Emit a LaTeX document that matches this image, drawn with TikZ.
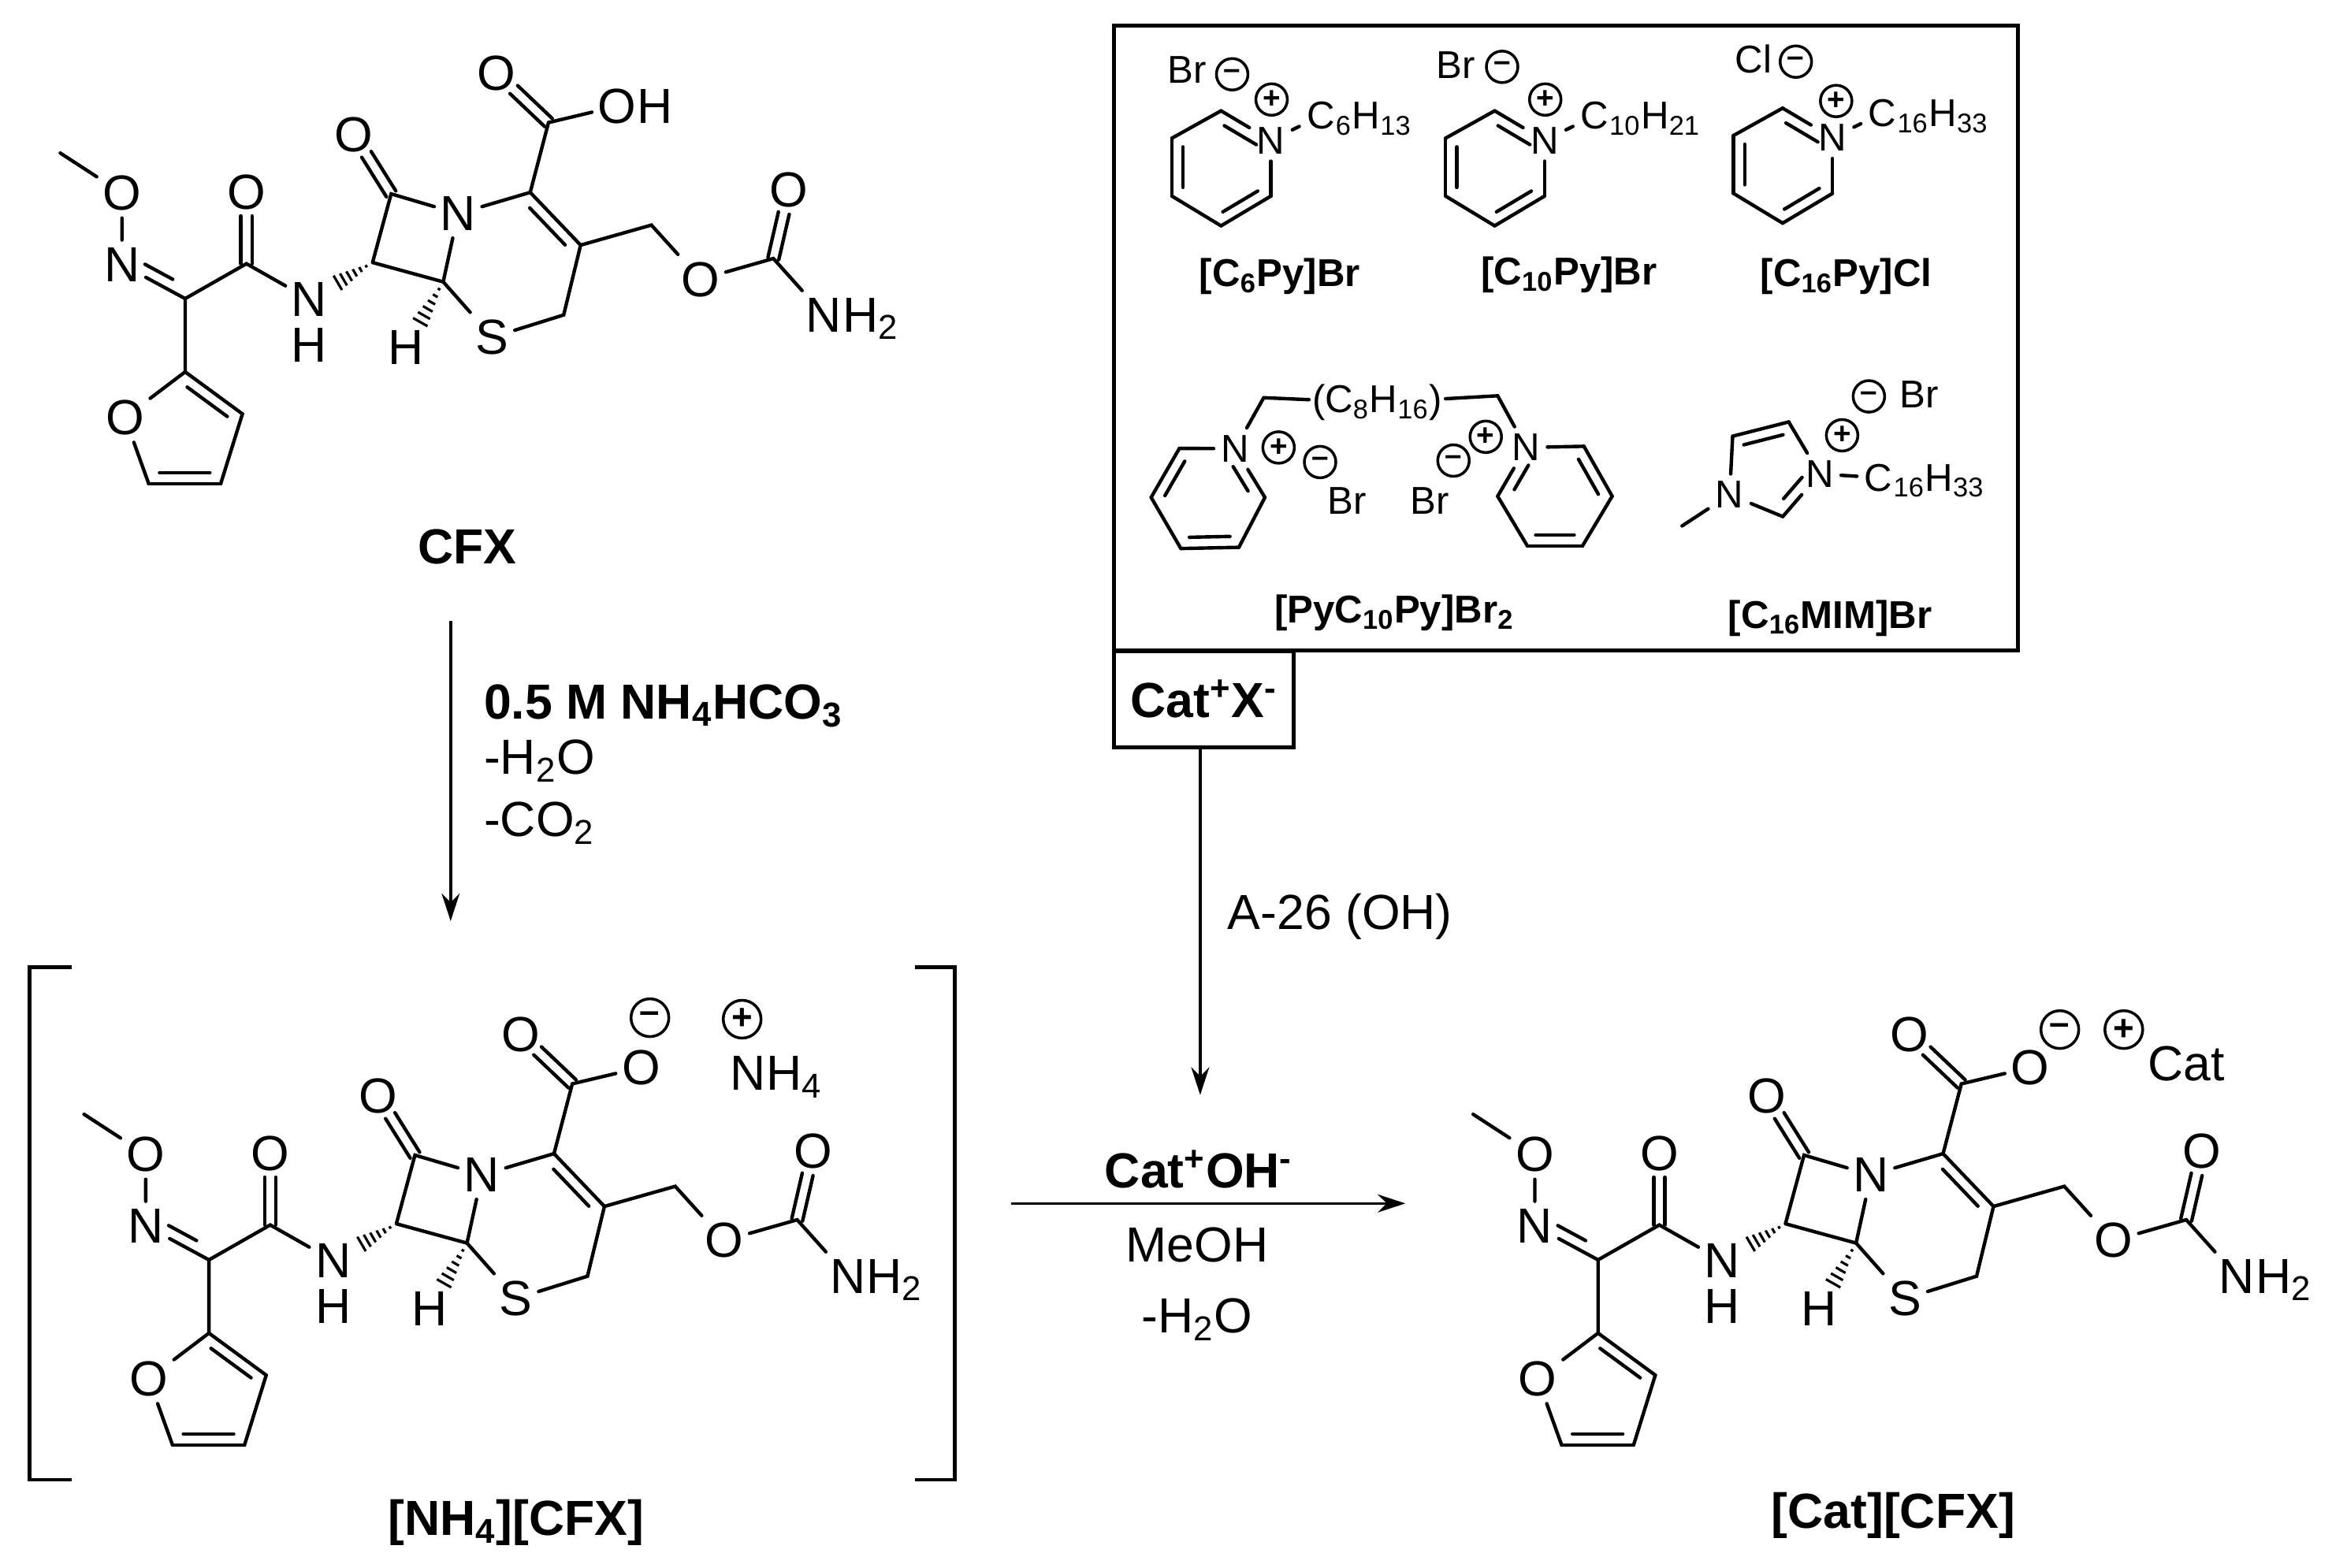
\documentclass[tikz,border=0pt]{standalone}
\usepackage{fontspec}
\setmainfont{Liberation Sans}
\usetikzlibrary{arrows.meta,calc,positioning}
\newcommand\mainfs{\fontsize{17.8}{20}\selectfont}
\newcommand\boxfs{\fontsize{14}{16}\selectfont}
\tikzset{
  bond/.style={line width=1.25pt,line cap=round},
  hash/.style={line width=0.9pt},
  frame/.style={line width=1.4pt},
  atom/.style={inner xsep=2pt,inner ysep=2.5pt,font=\mainfs},
  satom/.style={inner sep=2.5pt,font=\boxfs},
  tail/.style={inner sep=0pt,anchor=base west,xshift=-2pt,font=\mainfs},
  stail/.style={inner sep=0pt,anchor=base west,xshift=-2.5pt,font=\boxfs},
  lab/.style={inner sep=0pt,font=\mainfs\bfseries},
  slab/.style={inner sep=0pt,font=\boxfs\bfseries},
  txt/.style={inner sep=0pt,font=\mainfs},
  chg/.style={circle,draw,line width=1pt,inner sep=0pt,minimum size=0.4cm,font=\fontsize{11}{11}\selectfont\bfseries},
  bigchg/.style={chg,minimum size=0.48cm,font=\fontsize{13}{13}\selectfont\bfseries},
  rxn/.style={line width=1pt,-{Stealth[length=10pt,width=6.5pt]}}
}
% double bond: main line and a shorter one beside it
\newcommand\ibond[4][.15]{\draw[bond] (#2)--(#3);
\draw[bond] ($(#2)!#1!(#3)!#4!90:(#3)$)--($(#3)!#1!(#2)!#4!-90:(#2)$);}
% C=O, both lines beside the axis
\newcommand\cobond[2]{\draw[bond,shorten >=8.5pt] ($(#1)!2pt!90:(#2)$)--($(#2)!2pt!-90:(#1)$);
\draw[bond,shorten >=8.5pt] ($(#1)!2pt!-90:(#2)$)--($(#2)!2pt!90:(#1)$);}
\newcommand\hashbond[3]{\foreach \t/\w in {.10/.5,.19/1,.28/1.5,.37/2,.46/2.5,.55/3}
{\draw[hash] ($(#1)!\t*#3!(#2)!\w pt!90:(#2)$)--($(#1)!\t*#3!(#2)!\w pt!-90:(#2)$);}}
\newcommand\cfxcore{
\coordinate (me) at (40.5,103);
\node[atom] (o1) at (82,130) {O};
\node[atom] (n1) at (82,178) {N};
\coordinate (c1) at (124.5,201);
\coordinate (c2) at (165.7,177.5);
\node[atom] (o2) at (165.7,129.5) {O};
\node[atom,inner ysep=0pt] (n2) at (208,201.5) {N};
\node[atom,inner ysep=0pt] (h2) at (208,232.5) {H};
\coordinate (c3) at (250.5,176.7);
\coordinate (c4) at (298,189.7);
\coordinate (c5) at (263,130.5);
\node[atom] (o3) at (238,90.5) {O};
\node[atom] (n3) at (308,143.8) {N};
\coordinate (c6) at (356.5,129.5);
\coordinate (c7) at (390.4,165);
\coordinate (c8) at (379,212);
\node[atom] (s1) at (331,227) {S};
\node[atom] (h4) at (273,233.7) {H};
\coordinate (c9) at (368.8,82.5);
\node[atom] (o4) at (334,49.4) {O};
\node[atom] (o5) at (415,71.5) {O};
\coordinate (c10) at (438,151.5);
\node[atom] (o6) at (471,188) {O};
\coordinate (c11) at (520,174);
\node[atom] (o7) at (530.6,128) {O};
\node[atom] (n4) at (554,212) {N};
\node[tail] at (n4.base east) {H\textsubscript{2}};
\coordinate (f1) at (124.5,250.3);
\coordinate (f2) at (163,278.6);
\coordinate (f3) at (148.4,325.6);
\coordinate (f4) at (100,325.6);
\node[atom] (fo) at (84,281) {O};
\draw[bond] (me)--(o1)--(n1);
\ibond[.28]{c1}{n1}{-4pt}
\draw[bond] (f1)--(c1)--(c2)--(n2);
\cobond{c2}{o2}
\hashbond{c3}{n2}{1}
\draw[bond] (c3)--(c4)--(n3)--(c5)--(c3);
\cobond{c5}{o3}
\hashbond{c4}{h4}{1.12}
\draw[bond] (n3)--(c6);
\ibond{c6}{c7}{-4pt}
\draw[bond] (c7)--(c8)--(s1)--(c4);
\draw[bond] (c6)--(c9)--(o5);
\cobond{c9}{o4}
\draw[bond] (c7)--(c10)--(o6)--(c11)--(n4);
\cobond{c11}{o7}
\ibond{f1}{f2}{-4pt}
\ibond{f3}{f4}{-4pt}
\draw[bond] (f2)--(f3);
\draw[bond] (f4)--(fo)--(f1);
}
\newcommand\pycat{
\coordinate (r1) at (821,74.6);
\node[satom] (nq) at (854.5,94.5) {N};
\coordinate (r2) at (854.5,132);
\coordinate (r3) at (821,152);
\coordinate (r4) at (788,132);
\coordinate (r5) at (788,93);
\ibond[.18]{r1}{nq}{-4pt}
\draw[bond] (nq)--(r2);
\ibond{r2}{r3}{-4pt}
\draw[bond] (r3)--(r4);
\ibond{r4}{r5}{-4pt}
\draw[bond] (r5)--(r1);
}
\begin{document}
\begin{tikzpicture}[x=0.018871cm,y=-0.018863cm]
\useasboundingbox (0,0) rectangle (1568,1055);

% CFX
\begin{scope}[name prefix=cfx-]
\cfxcore
\node[tail] at (o5.base east) {H};
\end{scope}
\node[lab] (cfxlab) at (314,368) {CFX};

\coordinate (arrAa) at (303,418);
\coordinate (arrAb) at (303,620);
\draw[rxn] (arrAa)--(arrAb);
\node[lab,anchor=west] (reagA) at (325,475) {0.5 M NH\textsubscript{4}HCO\textsubscript{3}};
\node[txt,anchor=west] (reagB) at (325,512) {-H\textsubscript{2}O};
\node[txt,anchor=west] (reagC) at (325,554) {-CO\textsubscript{2}};

% ammonium salt
\begin{scope}[name prefix=amm-,shift={(16,647)}]
\cfxcore
\node[bigchg] (minus) at (421,38) {--};
\node[bigchg] (plus) at (483,39) {+};
\node[atom] (nh) at (506,78) {NH\textsubscript{4}};
\end{scope}
\draw[frame] (48,651)--(20,651)--(20,996)--(48,996);
\draw[frame] (615,651)--(642,651)--(642,996)--(615,996);
\node[lab] (ammlab) at (347,1025) {[NH\textsubscript{4}][CFX]};

% catalyst box
\draw[frame] (749,17) rectangle (1357,438);
\node[lab,draw,frame,minimum width=2.28cm,minimum height=1.22cm] (catbox) at (809.5,470.5) {Cat\textsuperscript{+}X\textsuperscript{-}};

\begin{scope}[name prefix=pa-]
\pycat
\node[satom] (ca) at (888,78) {C};
\node[stail] at (ca.base east) {\textsubscript{6}H\textsubscript{13}};
\draw[bond] (nq)--(ca);
\end{scope}
\node[chg] (pap) at (855,67) {+};
\node[chg] (pam) at (828.5,50) {--};
\node[satom] (pabr) at (798,47) {Br};
\node[slab] (palab) at (860.5,186) {[C\textsubscript{6}Py]Br};

\begin{scope}[name prefix=pb-,shift={(184,0)}]
\pycat
\node[satom] (ca) at (888,78) {C};
\node[stail] at (ca.base east) {\textsubscript{10}H\textsubscript{21}};
\draw[bond] (nq)--(ca);
\end{scope}
\node[chg] (pbp) at (1039,67) {+};
\node[chg] (pbm) at (1010,45) {--};
\node[satom] (pbbr) at (979,44) {Br};
\node[slab] (pblab) at (1055,185) {[C\textsubscript{10}Py]Br};

\begin{scope}[name prefix=pc-,shift={(377.6,-1.8)}]
\pycat
\node[satom] (ca) at (888,78) {C};
\node[stail] at (ca.base east) {\textsubscript{16}H\textsubscript{33}};
\draw[bond] (nq)--(ca);
\end{scope}
\node[chg] (pcp) at (1234.6,68) {+};
\node[chg] (pcm) at (1207.5,41.5) {--};
\node[satom] (pccl) at (1179,40) {Cl};
\node[slab] (pclab) at (1241.4,186) {[C\textsubscript{16}Py]Cl};

% dimer
\node[satom] (dl) at (830.5,302) {N};
\coordinate (dl1) at (850.5,334.8);
\coordinate (dl2) at (833,368.4);
\coordinate (dl3) at (794,369.2);
\coordinate (dl4) at (774,334.8);
\coordinate (dl5) at (793,301.8);
\ibond[.25]{dl}{dl1}{-4pt}
\draw[bond] (dl1)--(dl2);
\ibond{dl2}{dl3}{-4pt}
\draw[bond] (dl3)--(dl4);
\ibond{dl4}{dl5}{-4pt}
\draw[bond] (dl5)--(dl);
\node[satom] (dr) at (1026,301.2) {N};
\coordinate (dr1) at (1065,300.4);
\coordinate (dr2) at (1084,334);
\coordinate (dr3) at (1064,367.5);
\coordinate (dr4) at (1027,367.5);
\coordinate (dr5) at (1007,334);
\draw[bond] (dr)--(dr1);
\ibond{dr1}{dr2}{-4pt}
\draw[bond] (dr2)--(dr3);
\ibond{dr3}{dr4}{-4pt}
\draw[bond] (dr4)--(dr5);
\ibond[.25]{dr5}{dr}{-4pt}
\coordinate (chl) at (849.7,267.7);
\coordinate (chr) at (1007,266.4);
\node[satom,inner sep=1pt] (chain) at (926,271) {(C\textsubscript{8}H\textsubscript{16})};
\draw[bond] (dl)--(chl)--(chain)--(chr)--(dr);
\node[chg] (dp1) at (859.7,301.2) {+};
\node[chg] (dm1) at (887.6,311) {--};
\node[satom] (dbr1) at (905.5,337) {Br};
\node[satom] (dbr2) at (961.4,337) {Br};
\node[chg] (dm2) at (977.3,310) {--};
\node[chg] (dp2) at (999,294) {+};
\node[slab] (dlab) at (937.5,412.5) {[PyC\textsubscript{10}Py]Br\textsubscript{2}};

% imidazolium
\node[satom] (im1) at (1163,333) {N};
\coordinate (im2) at (1165,293.6);
\coordinate (im3) at (1202.7,284);
\node[satom] (im4) at (1223.5,319) {N};
\coordinate (im5) at (1198.7,347.7);
\coordinate (imme) at (1131,354);
\node[satom] (imc) at (1263,321.5) {C};
\node[stail] at (imc.base east) {\textsubscript{16}H\textsubscript{33}};
\draw[bond] (im1)--(im2);
\ibond{im2}{im3}{-4pt}
\draw[bond] (im3)--(im4);
\ibond[.25]{im4}{im5}{-4pt}
\draw[bond] (im5)--(im1)--(imme);
\draw[bond] (im4)--(imc);
\node[chg] (imp) at (1238.6,293) {+};
\node[chg] (imm) at (1256.6,266.8) {--};
\node[satom] (imbr) at (1290.5,265.5) {Br};
\node[slab] (imlab) at (1230.6,416) {[C\textsubscript{16}MIM]Br};

% reagents to product
\coordinate (arrBb) at (807,737);
\draw[rxn] (catbox.south -| arrBb)--(arrBb);
\node[txt] (resin) at (901,617) {A-26 (OH)};
\coordinate (arrCa) at (680,810);
\coordinate (arrCb) at (945,810);
\draw[rxn] (arrCa)--(arrCb);
\node[lab] (condA) at (806,787) {Cat\textsuperscript{+}OH\textsuperscript{-}};
\node[txt] (condB) at (805,838) {MeOH};
\node[txt] (condC) at (805,888) {-H\textsubscript{2}O};

% product
\begin{scope}[name prefix=cat-,shift={(950,647)}]
\cfxcore
\node[bigchg] (minus) at (435,46) {--};
\node[bigchg] (plus) at (478,46) {+};
\node[atom] (ct) at (520,69) {Cat};
\end{scope}
\node[lab] (catlab) at (1273,1020) {[Cat][CFX]};
\end{tikzpicture}
\end{document}
